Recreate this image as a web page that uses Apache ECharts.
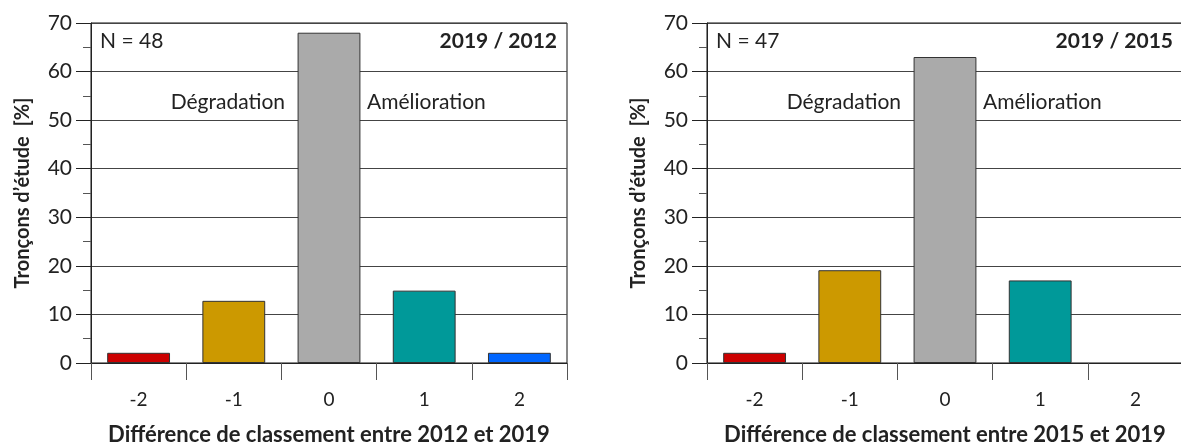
<!DOCTYPE html>
<html><head><meta charset="utf-8">
<script src="https://cdn.jsdelivr.net/npm/echarts@6/dist/echarts.min.js"></script>
<style>html,body{margin:0;padding:0;background:#fff}#c{width:1181px;height:446px}</style>
</head><body><div id="c"></div>
<script>
const categories = ['-2', '-1', '0', '1', '2'];
const values2012 = [2.1, 12.8, 68, 14.9, 2.1];
const values2015 = [2.1, 19.1, 63, 17, 0];
const barColors = ['#CC0000', '#CC9900', '#AAAAAA', '#009999', '#0066FF'];
const yTicks = { min: 0, max: 70, interval: 10 };
const yName = 'Tronçons d’étude  [%]';
const xNames = ['Différence de classement entre 2012 et 2019', 'Différence de classement entre 2015 et 2019'];
const nLabels = ['N = 48', 'N = 47'];
const periodLabels = ['2019 / 2012', '2019 / 2015'];
const zoneLabels = ['Dégradation', 'Amélioration'];

const FONT = 'Lato';
const chart = echarts.init(document.getElementById('c'));

function xAxis(i) {
  return {
    type: 'category', gridIndex: i, data: categories, boundaryGap: true,
    axisLine: { lineStyle: { color: '#222', width: 1 } },
    axisTick: { show: true, alignWithLabel: false, length: 17, lineStyle: { color: '#555' } },
    axisLabel: { color: '#222', fontFamily: FONT, fontSize: 19, margin: 27 },
    name: xNames[i], nameLocation: 'middle', nameGap: 61,
    nameTextStyle: { color: '#222', fontFamily: FONT, fontSize: 22, fontWeight: 'bold' }
  };
}
function yAxis(i) {
  return {
    type: 'value', gridIndex: i, min: yTicks.min, max: yTicks.max, interval: yTicks.interval,
    axisLine: { show: true, lineStyle: { color: '#222', width: 1 } },
    axisTick: { show: true, length: 15, lineStyle: { color: '#222' } },
    minorTick: { show: true, splitNumber: 2, length: 8, lineStyle: { color: '#555' } },
    splitLine: { show: true, lineStyle: { color: '#444', width: 1 } },
    axisLabel: { color: '#222', fontFamily: FONT, fontSize: 21, margin: 19 },
    name: yName, nameLocation: 'middle', nameGap: 58, nameRotate: 90,
    nameTextStyle: { color: '#222', fontFamily: FONT, fontSize: 20, fontWeight: 'bold' }
  };
}
function series(i, vals) {
  return {
    type: 'bar', xAxisIndex: i, yAxisIndex: i, barWidth: '66%',
    data: vals.map((v, k) => ({ value: v, itemStyle: { color: barColors[k], borderWidth: v > 0 ? 1 : 0 } })),
    itemStyle: { borderColor: '#333', borderWidth: 1 },
    emphasis: { disabled: true }, silent: true
  };
}
const txt = { fill: '#222', fontFamily: FONT, fontSize: 21 };
function texts(left, right, i) {
  return [
    { type: 'text', left: left + 9, top: 31, style: Object.assign({ text: nLabels[i] }, txt) },
    { type: 'text', right: 1181 - right + 10, top: 31, style: Object.assign({ text: periodLabels[i], fontWeight: 'bold' }, txt) },
    { type: 'text', right: 1181 - (left + 194), top: 92, style: Object.assign({ text: zoneLabels[0] }, txt) },
    { type: 'text', left: left + 276, top: 92, style: Object.assign({ text: zoneLabels[1] }, txt) }
  ];
}
chart.setOption({
  animation: false,
  grid: [
    { left: 91, top: 23, width: 476, bottom: 83, outerBoundsMode: 'none', containLabel: false, show: true, borderColor: '#111', borderWidth: 1, backgroundColor: 'transparent' },
    { left: 707, top: 23, width: 476, bottom: 83, outerBoundsMode: 'none', containLabel: false, show: true, borderColor: '#111', borderWidth: 1, backgroundColor: 'transparent' }
  ],
  xAxis: [xAxis(0), xAxis(1)],
  yAxis: [yAxis(0), yAxis(1)],
  series: [series(0, values2012), series(1, values2015)],
  graphic: texts(91, 567, 0).concat(texts(707, 1183, 1))
});
</script></body></html>
